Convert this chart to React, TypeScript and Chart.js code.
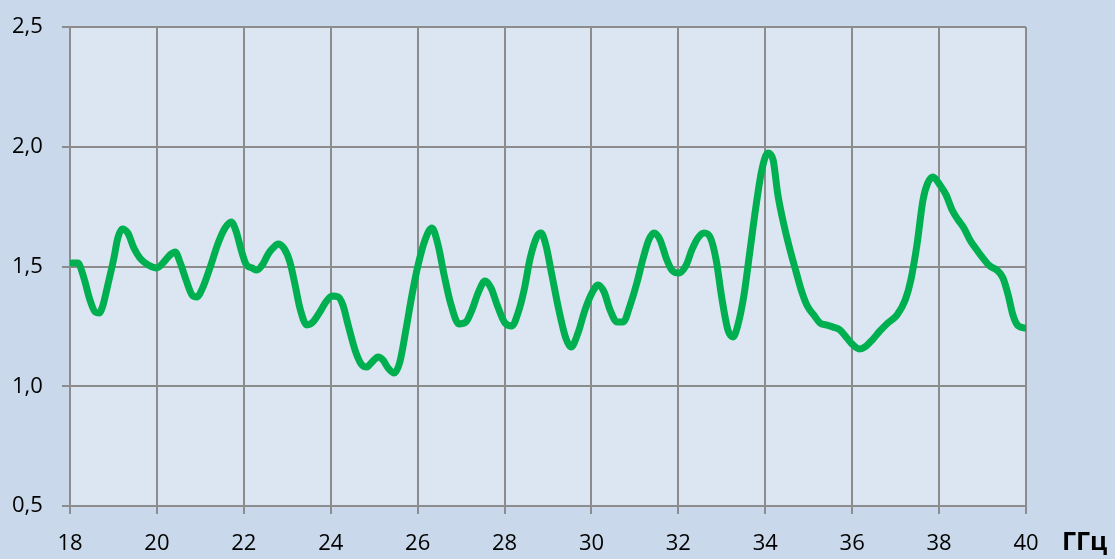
import React, { useEffect, useRef } from "react";
import { Chart, registerables } from "chart.js";

Chart.register(...registerables);

// Frequency, GHz
const freqs: number[] = [
  18.05, 18.18, 18.32, 18.46, 18.58, 18.67, 18.76, 18.87, 19.01, 19.10,
  19.20, 19.33, 19.47, 19.61, 19.80, 20.00, 20.16, 20.30, 20.42, 20.53,
  20.67, 20.81, 20.92, 21.06, 21.22, 21.41, 21.57, 21.71, 21.82, 21.94,
  22.05, 22.19, 22.30, 22.44, 22.56, 22.67, 22.79, 22.92, 23.06, 23.18,
  23.29, 23.45, 23.59, 23.75, 23.89, 24.03, 24.17, 24.28, 24.40, 24.56,
  24.70, 24.83, 24.95, 25.09, 25.20, 25.32, 25.46, 25.59, 25.73, 25.87,
  26.01, 26.17, 26.33, 26.47, 26.61, 26.77, 26.95, 27.11, 27.25, 27.39,
  27.55, 27.69, 27.83, 28.01, 28.17, 28.31, 28.45, 28.59, 28.75, 28.84,
  28.95, 29.09, 29.25, 29.41, 29.53, 29.69, 29.85, 30.01, 30.15, 30.29,
  30.43, 30.59, 30.73, 30.89, 31.05, 31.19, 31.32, 31.44, 31.58, 31.72,
  31.85, 32.01, 32.18, 32.31, 32.45, 32.59, 32.73, 32.87, 33.00, 33.14,
  33.26, 33.37, 33.51, 33.65, 33.79, 33.92, 34.06, 34.18, 34.29, 34.43,
  34.57, 34.71, 34.85, 34.98, 35.12, 35.26, 35.40, 35.56, 35.72, 35.86,
  36.00, 36.16, 36.32, 36.46, 36.64, 36.82, 37.03, 37.22, 37.35, 37.49,
  37.63, 37.74, 37.86, 38.02, 38.16, 38.30, 38.44, 38.57, 38.71, 38.87,
  39.01, 39.17, 39.33, 39.47, 39.59, 39.70, 39.82, 39.98,
];

// Measured value
const values: number[] = [
  1.515, 1.515, 1.452, 1.360, 1.310, 1.306, 1.339, 1.423, 1.535, 1.619,
  1.657, 1.640, 1.577, 1.535, 1.506, 1.494, 1.519, 1.548, 1.561, 1.519,
  1.444, 1.381, 1.373, 1.414, 1.494, 1.598, 1.661, 1.686, 1.648, 1.569,
  1.510, 1.494, 1.485, 1.510, 1.552, 1.577, 1.594, 1.577, 1.519, 1.423,
  1.327, 1.256, 1.268, 1.310, 1.352, 1.377, 1.373, 1.339, 1.256, 1.151,
  1.093, 1.080, 1.101, 1.122, 1.110, 1.076, 1.055, 1.101, 1.235, 1.381,
  1.506, 1.611, 1.661, 1.590, 1.464, 1.339, 1.260, 1.268, 1.318, 1.389,
  1.439, 1.410, 1.339, 1.264, 1.252, 1.306, 1.402, 1.535, 1.627, 1.640,
  1.590, 1.464, 1.318, 1.201, 1.164, 1.222, 1.318, 1.389, 1.423, 1.394,
  1.318, 1.268, 1.268, 1.339, 1.435, 1.535, 1.611, 1.640, 1.611, 1.535,
  1.485, 1.473, 1.506, 1.569, 1.619, 1.640, 1.623, 1.527, 1.368, 1.235,
  1.206, 1.256, 1.381, 1.569, 1.757, 1.903, 1.974, 1.945, 1.799, 1.673,
  1.569, 1.477, 1.389, 1.331, 1.297, 1.264, 1.256, 1.247, 1.235, 1.206,
  1.176, 1.156, 1.168, 1.193, 1.231, 1.264, 1.297, 1.360, 1.444, 1.590,
  1.778, 1.849, 1.874, 1.840, 1.799, 1.736, 1.694, 1.661, 1.611, 1.569,
  1.535, 1.502, 1.485, 1.452, 1.381, 1.297, 1.252, 1.243,
];

const xMin = 18;
const xMax = 40;
const xStep = 2;
const yMin = 0.5;
const yMax = 2.5;
const yStep = 0.5;
const unitLabel = "ГГц";

const OUTER_BG = "#c9d9eb";
const PLOT_BG = "#dce6f2";
const GRID = "#8c8c8c";
const LINE = "#00b050";
const FONT = '"Open Sans", "Liberation Sans", sans-serif';

export default function App() {
  const ref = useRef<HTMLCanvasElement | null>(null);

  useEffect(() => {
    document.body.style.margin = "0";
    const canvas = ref.current;
    if (!canvas) return;

    const plotBg = {
      id: "plotBg",
      beforeDraw(chart: any) {
        const { ctx, chartArea } = chart;
        ctx.save();
        ctx.fillStyle = OUTER_BG;
        ctx.fillRect(0, 0, chart.width, chart.height);
        ctx.fillStyle = PLOT_BG;
        ctx.fillRect(
          chartArea.left,
          chartArea.top,
          chartArea.right - chartArea.left,
          chartArea.bottom - chartArea.top
        );
        ctx.restore();
      },
    };

    const unitText = {
      id: "unitText",
      afterDraw(chart: any) {
        const { ctx, chartArea } = chart;
        ctx.save();
        ctx.font = "bold 25px " + FONT;
        ctx.fillStyle = "#000";
        ctx.textAlign = "left";
        ctx.textBaseline = "alphabetic";
        ctx.fillText(unitLabel, chartArea.right + 36, 550);
        ctx.restore();
      },
    };

    const chart = new Chart(canvas, {
      type: "line",
      data: {
        datasets: [
          {
            data: freqs.map((f, i) => ({ x: f, y: values[i] })),
            borderColor: LINE,
            borderWidth: 7,
            pointRadius: 0,
            tension: 0.4,
            cubicInterpolationMode: "monotone",
            borderCapStyle: "round",
            borderJoinStyle: "round",
            fill: false,
          },
        ],
      },
      options: {
        animation: false,
        responsive: false,
        devicePixelRatio: 1,
        layout: { padding: { top: 27, right: 89, left: 12, bottom: 0 } },
        plugins: {
          legend: { display: false },
          tooltip: { enabled: false },
        },
        scales: {
          x: {
            type: "linear",
            min: xMin,
            max: xMax,
            ticks: {
              stepSize: xStep,
              color: "#000",
              font: { family: FONT, size: 22 },
              padding: 17,
              maxRotation: 0,
            },
            grid: { color: GRID, lineWidth: 2, tickLength: 8 },
            border: { color: GRID, width: 2 },
            afterFit(scale: any) {
              scale.height = 53;
            },
          },
          y: {
            min: yMin,
            max: yMax,
            ticks: {
              stepSize: yStep,
              color: "#000",
              font: { family: FONT, size: 22 },
              padding: 0,
              crossAlign: "far",
              callback: (v: any) => Number(v).toFixed(1).replace(".", ","),
            },
            grid: { color: GRID, lineWidth: 2, tickLength: 8 },
            border: { color: GRID, width: 2 },
            afterFit(scale: any) {
              scale.width = 58;
            },
          },
        },
      },
      plugins: [plotBg, unitText],
    });

    return () => chart.destroy();
  }, []);

  return (
    <div style={{ width: 1115, height: 559, background: OUTER_BG }}>
      <canvas ref={ref} width={1115} height={559} style={{ display: "block" }} />
    </div>
  );
}
